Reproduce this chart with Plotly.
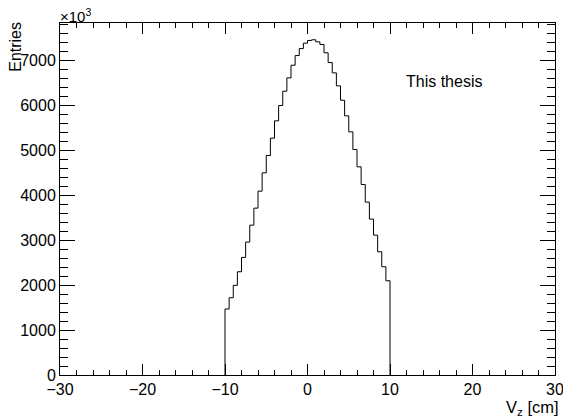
import plotly.graph_objects as go

# Histogram data (entries in units of 10^3), bins of 0.5 cm from -10 to 10
bin_edges_low = [-10.0, -9.5, -9.0, -8.5, -8.0, -7.5, -7.0, -6.5, -6.0, -5.5,
                 -5.0, -4.5, -4.0, -3.5, -3.0, -2.5, -2.0, -1.5, -1.0, -0.5,
                 0.0, 0.5, 1.0, 1.5, 2.0, 2.5, 3.0, 3.5, 4.0, 4.5,
                 5.0, 5.5, 6.0, 6.5, 7.0, 7.5, 8.0, 8.5, 9.0, 9.5]
bin_width = 0.5
entries = [1467, 1718, 1993, 2296, 2615, 2956, 3333, 3711, 4089, 4496,
           4881, 5267, 5652, 5993, 6311, 6607, 6889, 7104, 7259, 7380,
           7440, 7455, 7410, 7350, 7165, 6948, 6719, 6430, 6111, 5763,
           5407, 5015, 4630, 4237, 3845, 3467, 3111, 2741, 2407, 2096]

x_range = [-30, 30]
y_range = [0, 7828]
y_ticks = [0, 1000, 2000, 3000, 4000, 5000, 6000, 7000]
x_ticks = [-30, -20, -10, 0, 10, 20, 30]

# Build step outline: start at baseline, go up, follow bins, come back down
xs = [bin_edges_low[0]] + bin_edges_low + [bin_edges_low[-1] + bin_width]
ys = [0] + entries + [entries[-1]]
xs = xs + [bin_edges_low[-1] + bin_width]
ys = ys + [0]

FONT = "Liberation Sans, Arial, Helvetica, sans-serif"

fig = go.Figure()
fig.add_trace(go.Scatter(x=xs, y=ys, mode="lines", line=dict(color="black", width=1, shape="hv"),
                         showlegend=False, hoverinfo="skip"))

axis_common = dict(showgrid=False, zeroline=False, showline=True, linecolor="black", linewidth=1,
                   ticks="inside", mirror="ticks", tickcolor="black", tickwidth=1,
                   ticklabeloverflow="allow", automargin=False,
                   tickfont=dict(family=FONT, size=16, color="black"))

fig.update_layout(
    width=563, height=419,
    margin=dict(l=60, r=8, t=23, b=44, autoexpand=False),
    paper_bgcolor="white", plot_bgcolor="white",
    font=dict(family=FONT, size=16, color="black"),
    xaxis=dict(range=x_range, tickvals=x_ticks, ticklen=11,
               minor=dict(dtick=2, ticklen=5, ticks="inside", tickcolor="black", showgrid=False),
               **axis_common),
    yaxis=dict(range=y_range, tickvals=y_ticks, ticklen=15,
               minor=dict(dtick=200, ticklen=8, ticks="inside", tickcolor="black", showgrid=False),
               **axis_common),
    annotations=[
        dict(text="Entries", xref="paper", yref="paper", x=-0.089, y=1.009, xanchor="center", yanchor="top",
             textangle=-90, showarrow=False, font=dict(family=FONT, size=16)),
        dict(text="×10<sup>3</sup>", xref="paper", yref="paper", x=-0.004, y=0.99, xanchor="left", yanchor="bottom",
             showarrow=False, font=dict(family=FONT, size=15)),
        dict(text="V<sub>z</sub> [cm]", xref="paper", yref="paper", x=1.013, y=-0.06, xanchor="right", yanchor="top",
             showarrow=False, font=dict(family=FONT, size=16.5)),
        dict(text="This thesis", xref="paper", yref="paper", x=0.775, y=0.835, xanchor="center", yanchor="middle",
             showarrow=False, font=dict(family=FONT, size=16)),
    ],
)

fig.write_html("out.html")
